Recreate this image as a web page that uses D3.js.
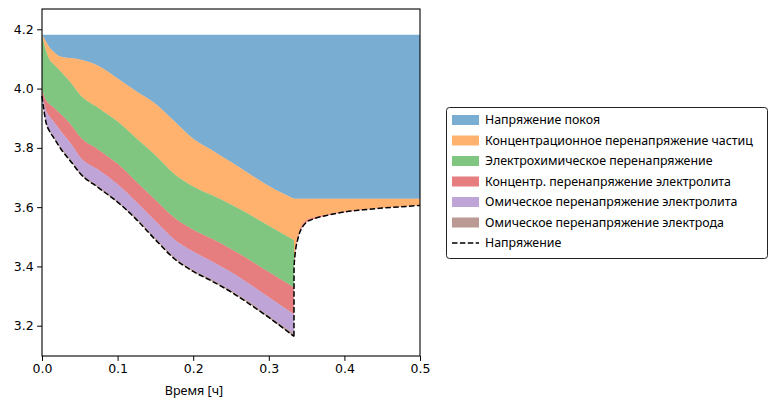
<!DOCTYPE html>
<html><head><meta charset="utf-8">
<script src="https://cdn.jsdelivr.net/npm/d3@7"></script>
<style>body{margin:0;background:#fff}svg{display:block}</style>
</head><body><svg id="c" width="777" height="409"></svg>
<script>
// time in hours (discharge ends at 0.3333 h, then rest)
const time = [0,0.005,0.01,0.015,0.025,0.04,0.05,0.075,0.1,0.125,0.15,0.175,0.2,0.225,0.25,0.275,0.3,0.3333,
  0.3334,0.3345,0.336,0.338,0.341,0.345,0.35,0.36,0.375,0.4,0.425,0.45,0.475,0.5];
const ocv = [4.182,4.160,4.139,4.125,4.107,4.102,4.098,4.076,4.034,3.990,3.949,3.890,3.831,3.792,3.752,3.711,3.671,3.628,
  3.628,3.628,3.628,3.628,3.628,3.628,3.628,3.628,3.628,3.628,3.628,3.628,3.628,3.628];
const particleConc = [0.002,0.030,0.042,0.042,0.050,0.088,0.118,0.142,0.145,0.158,0.174,0.178,0.161,0.152,0.143,0.137,0.134,0.140,
  0.223,0.182,0.152,0.130,0.103,0.085,0.072,0.063,0.054,0.043,0.035,0.030,0.026,0.021];
const reaction = [0.182,0.168,0.150,0.146,0.144,0.142,0.142,0.141,0.143,0.147,0.151,0.148,0.146,0.147,0.150,0.153,0.156,0.159,
  0,0,0,0,0,0,0,0,0,0,0,0,0,0];
const electrolyteConc = [0.010,0.034,0.041,0.047,0.057,0.064,0.068,0.068,0.069,0.068,0.071,0.073,0.074,0.076,0.078,0.081,0.085,0.090,
  0.012,0.012,0.012,0.010,0.010,0.008,0.007,0.005,0.003,0.002,0.002,0.001,0.001,0.001];
const electrolyteOhmic = [0.010,0.034,0.046,0.049,0.054,0.054,0.051,0.056,0.056,0.054,0.057,0.059,0.062,0.062,0.062,0.061,0.063,0.066,
  0,0,0,0,0,0,0,0,0,0,0,0,0,0];
const electrodeOhmic = [0.003,0.005,0.005,0.005,0.005,0.005,0.005,0.005,0.005,0.005,0.005,0.005,0.005,0.005,0.005,0.006,0.007,0.010,
  0,0,0,0,0,0,0,0,0,0,0,0,0,0];
const voltage = [3.975,3.889,3.856,3.836,3.796,3.748,3.715,3.665,3.617,3.558,3.490,3.426,3.383,3.350,3.314,3.272,3.228,3.164,
  3.394,3.434,3.465,3.488,3.515,3.535,3.549,3.561,3.571,3.584,3.591,3.597,3.601,3.606];
const dischargeEnd = 0.3333;

const labels = ["Напряжение покоя","Концентрационное перенапряжение частиц","Электрохимическое перенапряжение",
  "Концентр. перенапряжение электролита","Омическое перенапряжение электролита","Омическое перенапряжение электрода"];
const lineLabel = "Напряжение";
const colors = ["#1f77b4","#ff7f0e","#2ca02c","#d62728","#9467bd","#8c564b"];
const xTicks = [0,0.1,0.2,0.3,0.4,0.5];
const yTicks = [3.2,3.4,3.6,3.8,4.0,4.2];
const xLabel = "Время [ч]";

const svg = d3.select("#c");
const L=42,R=420,T=9,B=356;
const x = d3.scaleLinear().domain([0,0.5]).range([L,R]);
const y = d3.scaleLinear().domain([3.0978,4.2685]).range([B,T]);
const curve = d3.curveMonotoneX;

// boundaries: top = initial ocv, then ocv, then successively subtract overpotentials
const comps = [particleConc,reaction,electrolyteConc,electrolyteOhmic,electrodeOhmic];
const bounds = [time.map(()=>ocv[0]), ocv.slice()];
let cur = ocv.slice();
comps.forEach(c=>{ cur = cur.map((v,i)=>v-c[i]); bounds.push(cur); });

// split into discharge and rest segments (share the end-of-discharge point)
const iEnd = time.indexOf(dischargeEnd);
const segs = [d3.range(0,iEnd+1), d3.range(iEnd,time.length)];

const g = svg.append("g");
for(let k=0;k<6;k++){
  const top=bounds[k], bot=bounds[k+1];
  const area = d3.area().curve(curve).x(i=>x(time[i])).y0(i=>y(bot[i])).y1(i=>y(top[i]));
  const d = segs.map(s=>area(s)).join("");
  g.append("path").attr("d",d).attr("fill",colors[k]).attr("fill-opacity",0.6)
    .attr("stroke",colors[k]).attr("stroke-opacity",0.0);
}
const line = d3.line().curve(curve).x(i=>x(time[i])).y(i=>y(voltage[i]));
g.append("path").attr("d",segs.map(s=>line(s)).join("")).attr("fill","none").attr("stroke","#000")
  .attr("stroke-width",1.5).attr("stroke-dasharray","5.5,2.4");

// axes
const fontTick = "DejaVu Sans, sans-serif";
const xa = svg.append("g").attr("transform",`translate(0,${B})`)
  .call(d3.axisBottom(x).tickValues(xTicks).tickFormat(d3.format(".1f")).tickSize(4.9).tickPadding(3.5));
const ya = svg.append("g").attr("transform",`translate(${L},0)`)
  .call(d3.axisLeft(y).tickValues(yTicks).tickFormat(d3.format(".1f")).tickSize(4.9).tickPadding(3.5));
[xa,ya].forEach(a=>{
  a.select(".domain").remove();
  a.selectAll("line").attr("stroke","#000").attr("stroke-width",1);
  a.selectAll("text").attr("fill","#000").style("font-family",fontTick).style("font-size","12.5px");
});
svg.append("rect").attr("x",L).attr("y",T).attr("width",R-L).attr("height",B-T)
  .attr("fill","none").attr("stroke","#000").attr("stroke-width",1.1);

svg.append("text").attr("x",194).attr("y",395).attr("text-anchor","middle")
  .style("font-family","Noto Sans, sans-serif").style("font-size","12.5px").text(xLabel);

// legend
const lg = svg.append("g");
lg.append("rect").attr("x",446.5).attr("y",107.5).attr("width",321).attr("height",151).attr("rx",3)
  .attr("fill","#fff").attr("stroke","#222").attr("stroke-width",1);
const rowY = i=>120+i*20.5;
const legFont = "12.4px";
labels.forEach((lab,i)=>{
  lg.append("rect").attr("x",452).attr("y",rowY(i)-5).attr("width",27).attr("height",10)
    .attr("fill",colors[i]).attr("fill-opacity",0.6);
  lg.append("text").attr("x",485).attr("y",rowY(i)+4.3).style("font-family","Noto Sans, sans-serif")
    .style("font-size",legFont).text(lab);
});
lg.append("line").attr("x1",452).attr("x2",479).attr("y1",rowY(6)).attr("y2",rowY(6))
  .attr("stroke","#000").attr("stroke-width",1.5).attr("stroke-dasharray","5.5,2.4");
lg.append("text").attr("x",485).attr("y",rowY(6)+4.3).style("font-family","Noto Sans, sans-serif")
  .style("font-size",legFont).text(lineLabel);
</script></body></html>
